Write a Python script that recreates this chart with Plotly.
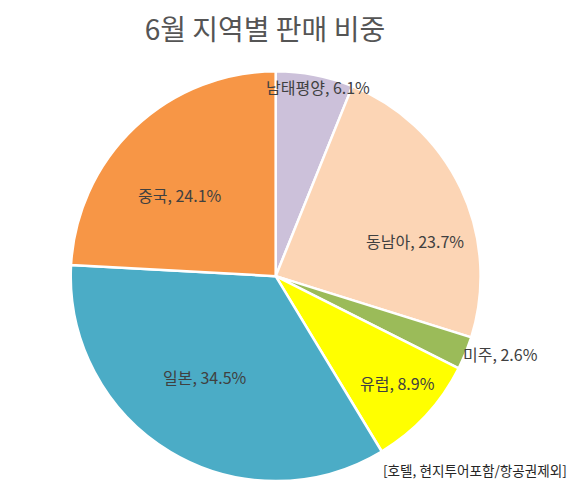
import math
import plotly.graph_objects as go

# data
regions = ["남태평양", "동남아", "미주", "유럽", "일본", "중국"]
shares = [6.1, 23.7, 2.6, 8.9, 34.5, 24.1]
colors = ["#CCC1DA", "#FCD5B5", "#9BBB59", "#FFFF00", "#4BACC6", "#F79646"]

# label placement (fraction of radius, angle nudge in degrees), Excel-like
label_r = [0.945, 0.70, 1.16, 0.79, 0.60, 0.61]
label_dang = [1.6, 11.3, -3.0, -1.7, 4.2, -6.3]

dom_x = [0.108, 0.815]
dom_y = [0.05, 0.873]
font_fam = "Noto Sans CJK KR"

fig = go.Figure(go.Pie(
    labels=regions,
    values=shares,
    sort=False,
    direction="clockwise",
    rotation=0,
    marker=dict(colors=colors, line=dict(color="white", width=2.5)),
    textinfo="none",
    showlegend=False,
    hoverinfo="label+percent",
    domain=dict(x=dom_x, y=dom_y),
))

# data labels at each slice's mid angle
total = sum(shares)
cx, cy = sum(dom_x) / 2, sum(dom_y) / 2
rx, ry = (dom_x[1] - dom_x[0]) / 2, (dom_y[1] - dom_y[0]) / 2
start = 0
for name, val, lr, da in zip(regions, shares, label_r, label_dang):
    ang = math.radians((start + val / 2) / total * 360 + da)
    start += val
    fig.add_annotation(
        text=f"{name}, {val:.1f}%",
        xref="paper", yref="paper",
        x=cx + lr * rx * math.sin(ang), y=cy + lr * ry * math.cos(ang),
        xanchor="center", yanchor="middle",
        showarrow=False, font=dict(family=font_fam, size=16, color="#404040"),
    )

fig.update_layout(
    width=580, height=498,
    margin=dict(l=0, r=0, t=0, b=0),
    paper_bgcolor="white",
    title=dict(text="6월 지역별 판매 비중", x=0.443, xanchor="center", y=0.955, yanchor="middle",
               font=dict(family=font_fam, size=28, color="#555555")),
)

fig.add_annotation(
    text="[호텔, 현지투어포함/항공권제외]",
    xref="paper", yref="paper", x=0.967, y=0.072, xanchor="right", yanchor="middle",
    showarrow=False, font=dict(family=font_fam, size=13.6, color="#262626"),
)

fig.write_html("out.html")
